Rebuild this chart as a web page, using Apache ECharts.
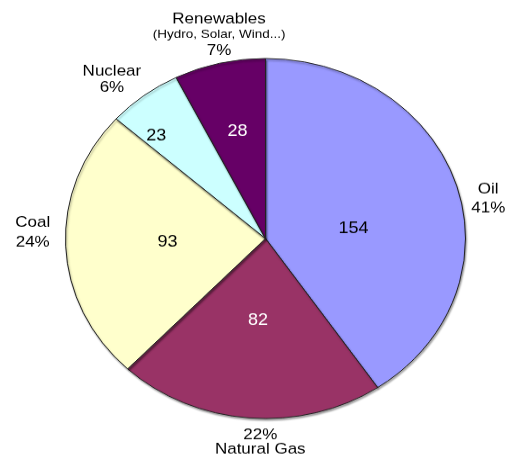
<!DOCTYPE html>
<html>
<head>
<meta charset="utf-8">
<script src="https://cdn.jsdelivr.net/npm/echarts@6/dist/echarts.min.js"></script>
<style>
html,body{margin:0;padding:0;background:#fff;overflow:hidden;}
#wrap{width:511px;height:455px;overflow:hidden;}
#chart{width:511px;height:506px;transform:scaleY(0.9);transform-origin:0 0;}
</style>
</head>
<body>
<div id="wrap"><div id="chart"></div></div>
<script>
const categories = ["Oil", "Natural Gas", "Coal", "Nuclear", "Renewables"];
const values = [154, 82, 93, 23, 28];
const subtitles = ["", "", "", "", "(Hydro, Solar, Wind...)"];
const colors = ["#9999FF", "#993366", "#FFFFCC", "#CCFFFF", "#660066"];
const valueTextColors = ["#000", "#fff", "#000", "#000", "#fff"];

// label placement tweaks (style only, pixels in unscaled chart space)
const innerShift = [[1, 16], [0, 0], [-7, 0], [-54, -42], [-7, -30.5]];
const outerShift = [[0, 24], [14, -6], [0, -16], [-12, 8], [7, 0.5]];
const outerLineHeight = [21, 16.5, 22, 18, 19];

const FONT = '"Liberation Sans", Arial, sans-serif';
const chart = echarts.init(document.getElementById('chart'));

const baseData = categories.map((c, i) => ({ name: c, value: values[i] }));

const option = {
  animation: false,
  series: [
    {
      type: 'pie',
      center: [265.5, 265],
      radius: 200,
      startAngle: 90,
      clockwise: true,
      silent: true,
      label: { show: false },
      labelLine: { show: false },
      itemStyle: {
        borderColor: '#222',
        borderWidth: 1,
        shadowColor: 'rgba(0,0,0,0.35)',
        shadowBlur: 2,
        shadowOffsetX: 1,
        shadowOffsetY: 2
      },
      data: baseData.map((d, i) => ({ ...d, itemStyle: { color: colors[i] } }))
    },
    {
      type: 'pie',
      center: [265.5, 265],
      radius: [0, 176],
      startAngle: 90,
      silent: true,
      avoidLabelOverlap: false,
      itemStyle: { color: 'rgba(0,0,0,0)' },
      labelLine: { show: false },
      label: {
        show: true,
        position: 'inside',
        formatter: '{c}',
        fontFamily: FONT,
        fontSize: 18
      },
      labelLayout: function (p) {
        const s = innerShift[p.dataIndex];
        return { dx: s[0], dy: s[1] };
      },
      data: baseData.map((d, i) => ({ ...d, label: { color: valueTextColors[i] } }))
    },
    {
      type: 'pie',
      center: [265.5, 265],
      radius: [220, 240],
      startAngle: 90,
      silent: true,
      avoidLabelOverlap: false,
      percentPrecision: 0,
      itemStyle: { color: 'rgba(0,0,0,0)' },
      labelLine: { show: false },
      label: {
        show: true,
        position: 'inside',
        fontFamily: FONT,
        fontSize: 17,
        color: '#000',
        align: 'center',
        formatter: function (p) {
          const i = p.dataIndex;
          const pct = p.percent + '%';
          if (p.name === 'Natural Gas') return pct + '\n' + p.name;
          if (subtitles[i]) return p.name + '\n{sub|' + subtitles[i] + '}\n' + pct;
          return p.name + '\n' + pct;
        },
        rich: {
          sub: { fontFamily: FONT, fontSize: 13.5, lineHeight: 16, color: '#000' }
        }
      },
      labelLayout: function (p) {
        const s = outerShift[p.dataIndex];
        return { dx: s[0], dy: s[1], hideOverlap: false };
      },
      data: baseData.map((d, i) => ({ ...d, label: { lineHeight: outerLineHeight[i] } }))
    }
  ]
};
chart.setOption(option);
</script>
</body>
</html>
